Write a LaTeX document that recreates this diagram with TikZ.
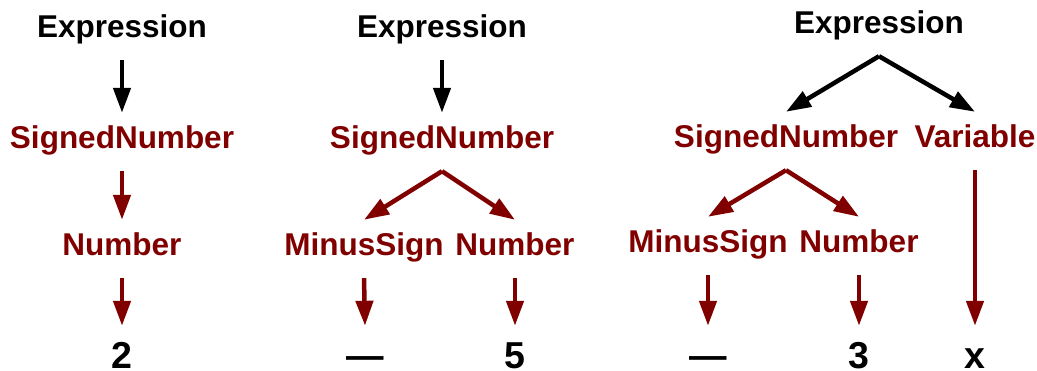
\documentclass[tikz,border=0pt]{standalone}
\usepackage{fontspec}
\setmainfont{Liberation Sans}
\usetikzlibrary{arrows.meta}
\definecolor{maroon}{RGB}{128,0,0}

\begin{document}
\begin{tikzpicture}[x=1pt, y=-1pt,
            every node/.style={anchor=base, inner xsep=0pt, font=\bfseries\fontsize{31.5}{36}\selectfont},
            rule/.style={text=maroon, text height=24pt, text depth=12pt, inner ysep=11pt},
            start/.style={text=black, text height=24pt, text depth=12pt, inner ysep=11pt},
            leaf/.style={text=black, font=\bfseries\fontsize{37.5}{42}\selectfont, text height=30pt, text depth=0pt, inner ysep=12pt},
            toparrow/.style={black, line width=4.5pt, -{Triangle[length=25pt, width=17pt]}},
            subarrow/.style={maroon, line width=4.5pt, -{Triangle[length=25pt, width=17pt]}}]
            \useasboundingbox (0,0) rectangle (1037,370);
            % first tree
            \node[start] (e1)  at (122,37)  {Expression};
            \node[rule]  (sn1) at (122,148) {SignedNumber};
            \node[rule]  (n1)  at (122,255) {Number};
            \node[leaf]  (two) at (122,368) {2};
            \path[toparrow] (e1.south)  edge (sn1.north);
            \path[subarrow] (sn1.south) edge (n1.north)
                            (n1.south)  edge (two.north);
            % second tree
            \node[start] (e2)    at (442,37)  {Expression};
            \node[rule]  (sn2)   at (442,148) {SignedNumber};
            \node[rule]  (ms2)   at (364,255) {MinusSign};
            \node[rule]  (nb2)   at (515,255) {Number};
            \node[leaf]  (dash2) at (365,368) {—};
            \node[leaf]  (five)  at (515,368) {5};
            \path[toparrow] (e2.south)  edge (sn2.north);
            \path[subarrow] (sn2.south) edge (ms2.north)
                            (sn2.south) edge (nb2.north)
                            (ms2.south) edge (dash2.north)
                            (nb2.south) edge (five.north);
            % third tree
            \node[start] (e3)    at (879,33)  {Expression};
            \node[rule]  (sn3)   at (786,147) {SignedNumber};
            \node[rule]  (var3)  at (975,147) {Variable};
            \node[rule]  (ms3)   at (708,252) {MinusSign};
            \node[rule]  (nb3)   at (859,252) {Number};
            \node[leaf]  (dash3) at (708,368) {—};
            \node[leaf]  (three) at (859,368) {3};
            \node[leaf]  (x3)    at (975,368) {x};
            \path[toparrow] (e3.south)  edge (sn3.north)
                            (e3.south)  edge (var3.north);
            \path[subarrow] (sn3.south) edge (ms3.north)
                            (sn3.south) edge (nb3.north)
                            (ms3.south) edge (dash3.north)
                            (nb3.south) edge (three.north)
                            (var3.south) edge (x3.north);
\end{tikzpicture}
\end{document}
